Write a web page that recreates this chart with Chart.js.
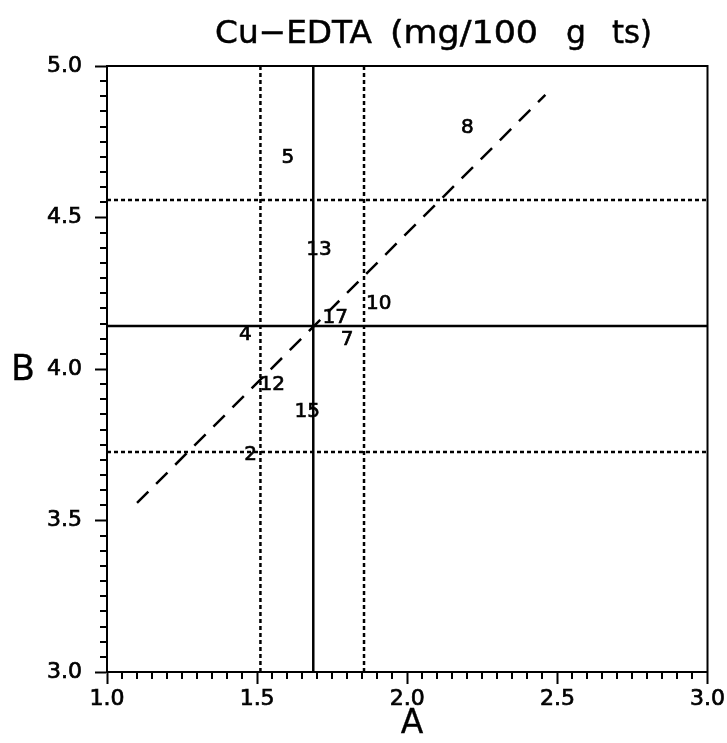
<!DOCTYPE html>
<html>
<head>
<meta charset="utf-8">
<script src="https://cdn.jsdelivr.net/npm/chart.js@4.4.0/dist/chart.umd.min.js"></script>
<style>
html,body{margin:0;padding:0;background:#fff;}
#wrap{width:727px;height:743px;}
</style>
</head>
<body>
<div id="wrap"><canvas id="c" width="727" height="743"></canvas></div>
<script>
// ---- data ----
const titleWords = ['Cu\u2212EDTA', '(mg/100', 'g', 'ts)'];
const xLabel = 'A';
const yLabel = 'B';
const xTickValues = [1.0, 1.5, 2.0, 2.5, 3.0];
const yTickValues = [3.0, 3.5, 4.0, 4.5, 5.0];
const pointNames = ['2', '4', '5', '7', '8', '10', '12', '13', '15', '17'];
const pointA = [1.478, 1.461, 1.602, 1.800, 2.200, 1.905, 1.550, 1.706, 1.667, 1.760];
const pointB = [3.716, 4.112, 4.696, 4.096, 4.795, 4.215, 3.947, 4.393, 3.858, 4.168];
const meanA = 1.687;
const meanB = 4.142;
const limitsA = [1.511, 1.856];
const limitsB = [3.726, 4.558];
const regA = [1.10, 2.46];
const regB = [3.558, 4.905];

const FONT = "'DejaVu Sans', 'Liberation Sans', sans-serif";
// title word spans (page layout, pixels)
const titleSpans = [[215, 372], [390, 538], [566, 586], [612, 652]];

function vline(x, dash, w) {
  return { data: [{x: x, y: 3}, {x: x, y: 5}], showLine: true, borderColor: '#000',
           borderWidth: w, borderDash: dash, pointRadius: 0, fill: false };
}
function hline(y, dash, w) {
  return { data: [{x: 1, y: y}, {x: 3, y: y}], showLine: true, borderColor: '#000',
           borderWidth: w, borderDash: dash, pointRadius: 0, fill: false };
}

const datasets = [
  vline(meanA, [], 2.5),
  vline(limitsA[0], [4, 3], 2.5),
  vline(limitsA[1], [4, 3], 2.5),
  hline(meanB, [], 2.5),
  hline(limitsB[0], [4, 3], 2.5),
  hline(limitsB[1], [4, 3], 2.5),
  { data: regA.map((a, i) => ({x: a, y: regB[i]})), showLine: true, borderColor: '#000',
    borderWidth: 2.5, borderDash: [16, 11], pointRadius: 0, fill: false },
  { data: pointNames.map((n, i) => ({x: pointA[i], y: pointB[i]})), showLine: false,
    pointRadius: 0, labels: pointNames }
];

function drawText(ctx, t, x, y) {
  ctx.fillText(t, x, y);
  ctx.strokeText(t, x, y);
}

const decor = {
  id: 'decor',
  afterDraw(chart) {
    const ctx = chart.ctx;
    const xs = chart.scales.x, ys = chart.scales.y;
    const L = xs.left, R = xs.right, T = ys.top, B = ys.bottom;
    ctx.save();
    ctx.strokeStyle = '#000';
    ctx.lineWidth = 2;
    // top and right frame
    ctx.beginPath();
    ctx.moveTo(L - 1, T); ctx.lineTo(R, T); ctx.lineTo(R, B + 1);
    ctx.stroke();
    // minor ticks every 0.05
    ctx.beginPath();
    for (let i = 0; i <= 40; i++) {
      if (i % 10 === 0) continue;
      const v = 1 + i * 0.05;
      const px = Math.round(xs.getPixelForValue(v));
      ctx.moveTo(px, B); ctx.lineTo(px, B + 7);
      const w = 3 + i * 0.05;
      const py = Math.round(ys.getPixelForValue(w));
      ctx.moveTo(L, py); ctx.lineTo(L - 7, py);
    }
    ctx.stroke();
    // point labels
    ctx.fillStyle = '#000';
    ctx.lineWidth = 0.7;
    ctx.font = '20px ' + FONT;
    ctx.textAlign = 'center';
    ctx.textBaseline = 'middle';
    const ds = chart.data.datasets[7];
    ds.data.forEach((p, i) => {
      drawText(ctx, ds.labels[i], xs.getPixelForValue(p.x), ys.getPixelForValue(p.y));
    });
    // title, each word fitted to its span
    ctx.font = '32px ' + FONT;
    ctx.textAlign = 'left';
    ctx.textBaseline = 'alphabetic';
    titleWords.forEach((wd, i) => {
      const m = ctx.measureText(wd).width;
      const span = titleSpans[i][1] - titleSpans[i][0];
      ctx.save();
      ctx.translate(titleSpans[i][0], 43);
      ctx.scale(span / m, 1);
      ctx.lineWidth = 0.5;
      drawText(ctx, wd, 0, 0);
      ctx.restore();
    });
    // axis titles
    ctx.textAlign = 'center';
    ctx.textBaseline = 'middle';
    ctx.lineWidth = 0.3;
    ctx.font = '33px ' + FONT;
    drawText(ctx, xLabel, 412, 724);
    ctx.font = '35px ' + FONT;
    drawText(ctx, yLabel, 23, 371);
    ctx.restore();
  }
};

new Chart(document.getElementById('c'), {
  type: 'scatter',
  data: { datasets: datasets },
  options: {
    responsive: false,
    animation: false,
    layout: { padding: { top: 66, right: 17, left: 0, bottom: 0 } },
    plugins: { legend: { display: false }, tooltip: { enabled: false }, title: { display: false } },
    scales: {
      x: {
        type: 'linear', min: 1, max: 3,
        afterFit(s) { s.height = 71; },
        afterBuildTicks(s) { s.ticks = xTickValues.map(v => ({value: v})); },
        ticks: { callback: v => v.toFixed(1), color: '#000', font: { family: FONT, size: 22 }, padding: 2, maxRotation: 0,
                 textStrokeColor: '#000', textStrokeWidth: 0.7 },
        grid: { drawOnChartArea: false, tickLength: 12, color: '#000', tickWidth: 2, tickColor: '#000' },
        border: { color: '#000', width: 2 }
      },
      y: {
        type: 'linear', min: 3, max: 5,
        afterFit(s) { s.width = 107; },
        afterBuildTicks(s) { s.ticks = yTickValues.map(v => ({value: v})); },
        ticks: { callback: v => v.toFixed(1), color: '#000', font: { family: FONT, size: 22 }, padding: 13,
                 textStrokeColor: '#000', textStrokeWidth: 0.7 },
        grid: { drawOnChartArea: false, tickLength: 12, color: '#000', tickWidth: 2, tickColor: '#000' },
        border: { color: '#000', width: 2 }
      }
    }
  },
  plugins: [decor]
});
</script>
</body>
</html>
